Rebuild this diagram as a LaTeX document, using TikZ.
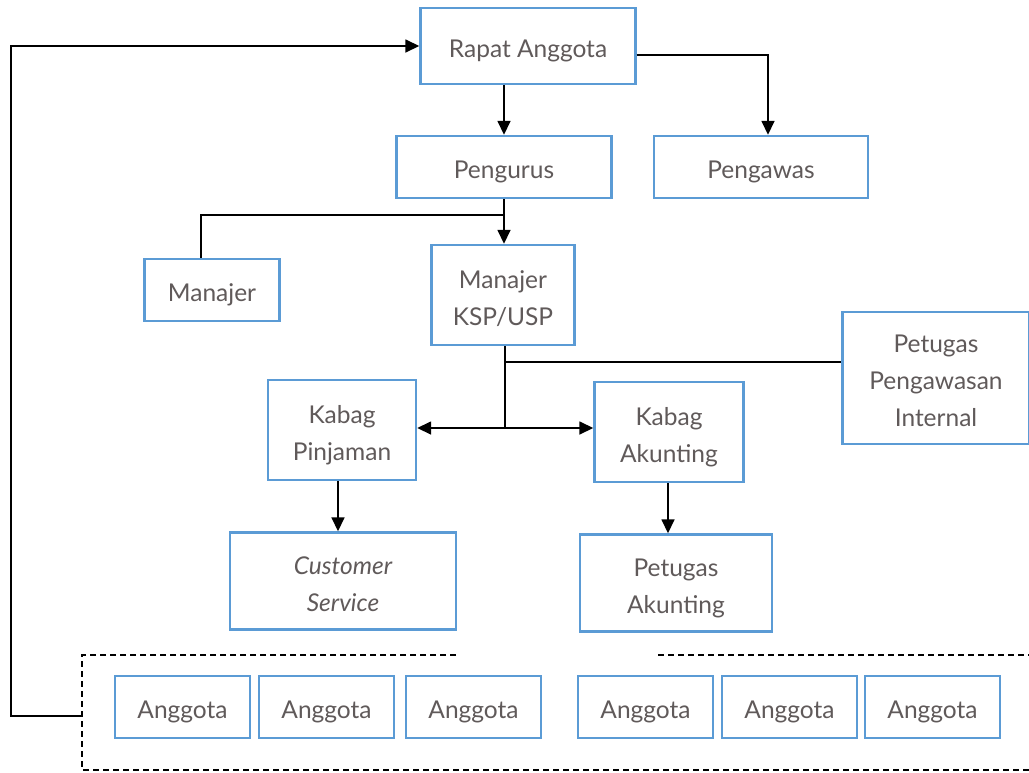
\documentclass[tikz,border=0pt]{standalone}
\usepackage{fontspec}
\setmainfont{Lato}
\usetikzlibrary{arrows.meta,calc}
\definecolor{boxblue}{HTML}{5B9BD5}
\definecolor{txtgray}{HTML}{605A5A}
\newcommand{\boxtext}[1]{\raisebox{-4.5pt}[\height][\depth]{\begin{tabular}{@{}c@{}}#1\end{tabular}}}
\begin{document}
\begin{tikzpicture}[x=1pt,y=-1pt,
  box/.style={draw=boxblue,line width=2.4pt,fill=white,inner sep=0pt,align=center,
    text=txtgray,font=\fontsize{24.5}{37}\selectfont},
  conn/.style={line width=1.6pt,draw=black},
  arr/.style={conn,-{Triangle[length=14pt,width=13pt]}},
  dashbox/.style={line width=1.4pt,dash pattern=on 6pt off 4pt}]
\useasboundingbox (0,0) rectangle (1029,772);
% boxes
\node[box,minimum width=215pt,minimum height=76pt] (rapat) at (528,46) {\boxtext{Rapat Anggota}};
\node[box,minimum width=215pt,minimum height=62pt] (pengurus) at (504,167) {\boxtext{Pengurus}};
\node[box,minimum width=214pt,minimum height=62pt] (pengawas) at (761,167) {\boxtext{Pengawas}};
\node[box,minimum width=135pt,minimum height=62pt] (manajer) at (212,290) {\boxtext{Manajer}};
\node[box,minimum width=143pt,minimum height=100pt] (ksp) at (503,295) {\boxtext{Manajer\\KSP/USP}};
\node[box,minimum width=187pt,minimum height=132pt] (ppi) at (936,378) {\boxtext{Petugas\\Pengawasan\\Internal}};
\node[box,minimum width=148pt,minimum height=100pt] (kp) at (342,430) {\boxtext{Kabag\\Pinjaman}};
\node[box,minimum width=149pt,minimum height=100pt] (ka) at (669,432) {\boxtext{Kabag\\Akunting}};
\node[box,minimum width=226pt,minimum height=97pt] (cs) at (343,581) {\boxtext{\itshape Customer\\\itshape Service}};
\node[box,minimum width=192pt,minimum height=97pt] (pa) at (676,583) {\boxtext{Petugas\\Akunting}};
% anggota
\node[box,minimum width=135pt,minimum height=62pt] (a1) at (182.5,707) {\boxtext{Anggota}};
\node[box,minimum width=135pt,minimum height=62pt] (a2) at (326.5,707) {\boxtext{Anggota}};
\node[box,minimum width=135pt,minimum height=62pt] (a3) at (473.5,707) {\boxtext{Anggota}};
\node[box,minimum width=135pt,minimum height=62pt] (a4) at (645.5,707) {\boxtext{Anggota}};
\node[box,minimum width=135pt,minimum height=62pt] (a5) at (789.5,707) {\boxtext{Anggota}};
\node[box,minimum width=135pt,minimum height=62pt] (a6) at (932.5,707) {\boxtext{Anggota}};
% dashed group
\coordinate (dtl) at (82,655);
\coordinate (dbl) at (82,770);
\coordinate (dgap1) at (456,655);
\coordinate (dgap2) at (658,655);
\coordinate (dtr) at (1029,655);
\coordinate (dbr) at (1029,770);
\draw[dashbox] (dgap1) -- (dtl) -- (dbl) -- (dbr);
\draw[dashbox] (dgap2) -- (dtr);
% connectors
\draw[arr] (pengurus.north |- rapat.south) -- (pengurus.north);
\draw[arr] ($(rapat.east)+(0,9)$) -| (768,0 |- pengawas.north);
\coordinate (j1) at (504,215);
\draw[arr] (pengurus.south) -- (pengurus.south |- ksp.north);
\draw[conn] (j1) -| ($(manajer.north)+(-11,0)$);
\coordinate (j2) at (505,428);
\coordinate (j3) at (505,362);
\draw[conn] (ksp.south -| j2) -- (j2);
\draw[conn] (j3) -- (j3 -| ppi.west);
\draw[arr] (j2) -- (j2 -| kp.east);
\draw[arr] (j2) -- (j2 -| ka.west);
\draw[arr] (338,0 |- kp.south) -- (338,0 |- cs.north);
\draw[arr] (668,0 |- ka.south) -- (668,0 |- pa.north);
\coordinate (fb) at (82,716);
\draw[arr] (fb) -- (11,716) |- (rapat.west);
\end{tikzpicture}
\end{document}
